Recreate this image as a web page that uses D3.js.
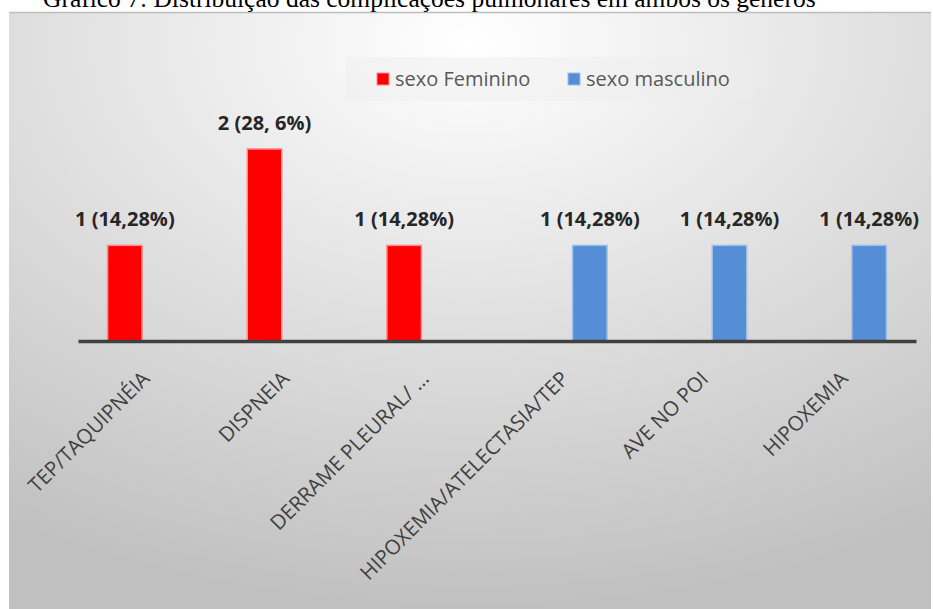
<!DOCTYPE html>
<html>
<head>
<meta charset="utf-8">
<script src="https://cdn.jsdelivr.net/npm/d3@7"></script>
<style>
  html, body { margin: 0; padding: 0; background: #fff; }
  svg { display: block; }
</style>
</head>
<body>
<svg id="chart" width="933" height="609"></svg>
<script>
// data
const title = "Gráfico 7: Distribuição das complicações pulmonares em ambos os gêneros";
const categories = ["TEP/TAQUIPNÉIA", "DISPNEIA", "DERRAME PLEURAL/ …", "HIPOXEMIA/ATELECTASIA/TEP", "AVE NO POI", "HIPOXEMIA"];
const seriesNames = ["sexo Feminino", "sexo masculino"];
const feminino = [1, 2, 1, null, null, null];
const masculino = [null, null, null, 1, 1, 1];
const labelsFeminino = ["1 (14,28%)", "2 (28, 6%)", "1 (14,28%)", null, null, null];
const labelsMasculino = [null, null, null, "1 (14,28%)", "1 (14,28%)", "1 (14,28%)"];

const colors = { fill: ["#ff0000", "#558ed5"], edge: ["#ff8c8c", "#9dc0ea"] };

const svg = d3.select("#chart");

// chart area background
const defs = svg.append("defs");
const grad = defs.append("radialGradient")
  .attr("id", "bg").attr("cx", "50%").attr("cy", "5%").attr("r", "95%")
  .attr("fx", "50%").attr("fy", "5%");
grad.append("stop").attr("offset", "0%").attr("stop-color", "#ffffff");
grad.append("stop").attr("offset", "100%").attr("stop-color", "#c0c0c0");

svg.append("rect")
  .attr("x", 9).attr("y", 12).attr("width", 922).attr("height", 600)
  .attr("fill", "url(#bg)");
svg.append("line")
  .attr("x1", 9).attr("x2", 931).attr("y1", 12.5).attr("y2", 12.5)
  .attr("stroke", "#bdbdbd").attr("stroke-width", 1.5);

// title, cut off by the page top as in the original
svg.append("text")
  .attr("x", 43).attr("y", 6.5)
  .attr("font-family", "Liberation Serif, serif")
  .attr("font-size", 25.5)
  .attr("fill", "#000")
  .text(title);

// scales
const x0 = d3.scaleBand().domain(categories).range([78, 916]).padding(0);
const x1 = d3.scaleBand().domain(seriesNames).range([-41, 41]).paddingInner(0.2174).paddingOuter(0);
const y = d3.scaleLinear().domain([0, 2.5]).range([341, 100]);

const rows = categories.map((c, i) => ({
  cat: c,
  vals: [
    { key: seriesNames[0], s: 0, value: feminino[i], label: labelsFeminino[i] },
    { key: seriesNames[1], s: 1, value: masculino[i], label: labelsMasculino[i] }
  ].filter(d => d.value != null)
}));

const groups = svg.append("g").selectAll("g")
  .data(rows)
  .enter().append("g")
  .attr("transform", d => "translate(" + (x0(d.cat) + x0.bandwidth() / 2) + ",0)");

groups.selectAll("rect")
  .data(d => d.vals)
  .enter().append("rect")
  .attr("x", d => x1(d.key) + 0.75)
  .attr("y", d => y(d.value) + 0.75)
  .attr("width", x1.bandwidth() - 1.5)
  .attr("height", d => y(0) - y(d.value) - 0.75)
  .attr("fill", d => colors.fill[d.s])
  .attr("stroke", d => colors.edge[d.s])
  .attr("stroke-width", 1.5);

groups.selectAll("text")
  .data(d => d.vals)
  .enter().append("text")
  .attr("x", d => x1(d.key) + x1.bandwidth() / 2)
  .attr("y", d => y(d.value) - 18.5)
  .attr("text-anchor", "middle")
  .attr("font-family", "Open Sans, sans-serif")
  .attr("font-weight", "bold")
  .attr("font-size", 20)
  .attr("fill", "#262626")
  .text(d => d.label);

// category axis
const xAxis = svg.append("g")
  .attr("transform", "translate(0," + y(0) + ")")
  .call(d3.axisBottom(x0).tickSize(0).tickSizeOuter(0));
xAxis.select(".domain")
  .attr("stroke", "#404040")
  .attr("stroke-width", 3.5);
xAxis.selectAll(".tick text")
  .attr("font-family", "Open Sans, sans-serif")
  .attr("font-size", 20.5)
  .attr("fill", "#404040")
  .attr("text-anchor", "end")
  .attr("dy", "0.35em")
  .attr("y", 0)
  .attr("transform", "translate(-2,34) rotate(-45)");

// legend
const legend = svg.append("g");
legend.append("rect")
  .attr("x", 346).attr("y", 57).attr("width", 407).attr("height", 44)
  .attr("fill", "#eeeeee").attr("fill-opacity", 0.45);
const legendX = [377, 568];
const items = legend.selectAll("g.item")
  .data(seriesNames)
  .enter().append("g")
  .attr("class", "item")
  .attr("transform", (d, i) => "translate(" + legendX[i] + ",73)");
items.append("rect")
  .attr("width", 12).attr("height", 12)
  .attr("fill", (d, i) => colors.fill[i])
  .attr("stroke", (d, i) => colors.edge[i])
  .attr("stroke-width", 1);
items.append("text")
  .attr("x", 18).attr("y", 12.5)
  .attr("font-family", "Open Sans, sans-serif")
  .attr("font-size", 20)
  .attr("fill", "#595959")
  .text(d => d);
</script>
</body>
</html>
